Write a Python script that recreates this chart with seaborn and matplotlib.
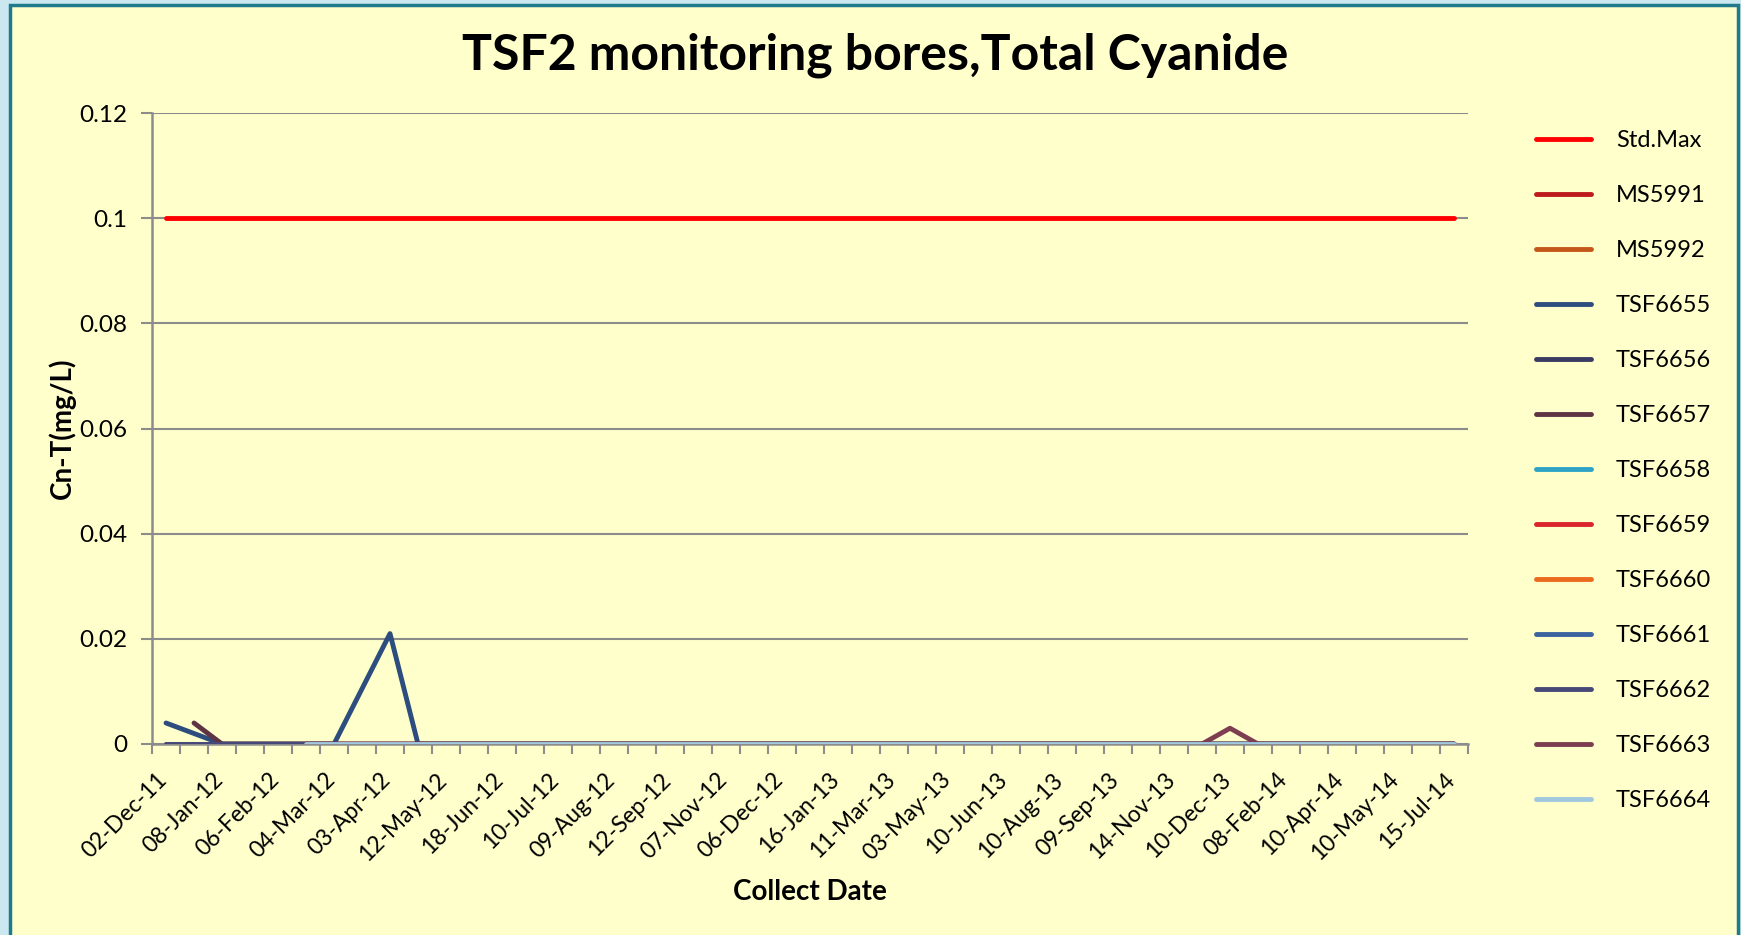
import numpy as np
import pandas as pd
import matplotlib.pyplot as plt
import seaborn as sns
from matplotlib.lines import Line2D
from matplotlib.patches import Rectangle

nan = np.nan

# 24 labelled collect dates, one label every second sample on the category axis
date_labels = ['02-Dec-11', '08-Jan-12', '06-Feb-12', '04-Mar-12', '03-Apr-12', '12-May-12',
               '18-Jun-12', '10-Jul-12', '09-Aug-12', '12-Sep-12', '07-Nov-12', '06-Dec-12',
               '16-Jan-13', '11-Mar-13', '03-May-13', '10-Jun-13', '10-Aug-13', '09-Sep-13',
               '14-Nov-13', '10-Dec-13', '08-Feb-14', '10-Apr-14', '10-May-14', '15-Jul-14']

# values per sample (47 samples), nan = not measured
std_max = [0.1] * 47
ms5991 = [0, 0, 0, 0, 0, 0, nan, nan, nan, nan, nan, nan,
          nan, nan, nan, nan, nan, nan, nan, nan, nan, nan, nan, nan,
          nan, nan, nan, nan, nan, nan, nan, nan, nan, nan, nan, nan,
          nan, nan, nan, nan, nan, nan, nan, nan, nan, nan, nan]
ms5992 = [0, 0, 0, 0, 0, 0, nan, nan, nan, nan, nan, nan,
          nan, nan, nan, nan, nan, nan, nan, nan, nan, nan, nan, nan,
          nan, nan, nan, nan, nan, nan, nan, nan, nan, nan, nan, nan,
          nan, nan, nan, nan, nan, nan, nan, nan, nan, nan, nan]
tsf6655 = [0.004, nan, 0, 0, 0, 0, 0, nan, 0.021, 0, 0, 0,
           0, 0, 0, 0, 0, 0, 0, 0, 0, 0, 0, 0,
           0, 0, 0, 0, 0, 0, 0, 0, 0, 0, 0, 0,
           0, 0, 0, 0, 0, 0, 0, 0, 0, 0, 0]
tsf6656 = [0, 0, 0, 0, 0, 0, 0, 0, 0, 0, 0, 0,
           0, 0, 0, 0, 0, 0, 0, 0, 0, 0, 0, 0,
           0, 0, 0, 0, 0, 0, 0, 0, 0, 0, 0, 0,
           0, 0, 0, 0, 0, 0, 0, 0, 0, 0, 0]
tsf6657 = [nan, 0.004, 0, 0, 0, 0, 0, 0, 0, 0, 0, 0,
           0, 0, 0, 0, 0, 0, 0, 0, 0, 0, 0, 0,
           0, 0, 0, 0, 0, 0, 0, 0, 0, 0, 0, 0,
           0, 0, 0, 0, 0, 0, 0, 0, 0, 0, 0]
tsf6658 = list(tsf6656)
tsf6659 = list(tsf6656)
tsf6660 = list(tsf6656)
tsf6661 = list(tsf6656)
tsf6662 = [0, 0, 0, 0, 0, 0, nan, nan, nan, nan, nan, nan,
           nan, nan, nan, nan, nan, nan, nan, nan, nan, nan, nan, nan,
           nan, nan, nan, nan, nan, nan, nan, nan, nan, nan, nan, nan,
           nan, nan, nan, nan, nan, nan, nan, nan, nan, nan, nan]
tsf6663 = [nan, nan, nan, nan, nan, 0, 0, 0, 0, 0, 0, 0,
           0, 0, 0, 0, 0, 0, 0, 0, 0, 0, 0, 0,
           0, 0, 0, 0, 0, 0, 0, 0, 0, 0, 0, 0,
           0, 0, 0.003, 0, 0, 0, 0, 0, 0, 0, 0]
tsf6664 = [nan, nan, nan, nan, nan, 0, 0, 0, 0, 0, 0, 0,
           0, 0, 0, 0, 0, 0, 0, 0, 0, 0, 0, 0,
           0, 0, 0, 0, 0, 0, 0, 0, 0, 0, 0, 0,
           0, 0, 0, 0, 0, 0, 0, 0, 0, 0, 0]

series = {'Std.Max': std_max, 'MS5991': ms5991, 'MS5992': ms5992,
          'TSF6655': tsf6655, 'TSF6656': tsf6656, 'TSF6657': tsf6657,
          'TSF6658': tsf6658, 'TSF6659': tsf6659, 'TSF6660': tsf6660,
          'TSF6661': tsf6661, 'TSF6662': tsf6662, 'TSF6663': tsf6663,
          'TSF6664': tsf6664}
colors = ['#FF0000', '#BE1A1E', '#C4571A', '#2C4D7E', '#393B62', '#5E3444',
          '#2EA3C6', '#D9252B', '#EB6A1E', '#3A63A0', '#464878', '#7D3E52',
          '#A0C8DF']
names = list(series.keys())

rows = []
for name, vals in series.items():
    for i, v in enumerate(vals):
        rows.append({'sample': i, 'value': v, 'bore': name})
df = pd.DataFrame(rows).dropna()

sns.set_theme(style='white')
plt.rcParams['font.family'] = ['Lato', 'DejaVu Sans']
plt.rcParams['text.color'] = 'black'
plt.rcParams['axes.labelcolor'] = 'black'
plt.rcParams['xtick.labelcolor'] = 'black'
plt.rcParams['ytick.labelcolor'] = 'black'
plt.rcParams['lines.solid_capstyle'] = 'round'
plt.rcParams['lines.solid_joinstyle'] = 'round'

bg = '#FFFFCC'
grey = '#8C8C8C'

fig = plt.figure(figsize=(17.41, 9.35), dpi=100, facecolor='#CBE8F1')
fig.patches.append(Rectangle((10 / 1741, -0.02), 1728 / 1741, 1.02 - 5 / 935,
                             transform=fig.transFigure, facecolor=bg,
                             edgecolor='#1F7A8C', lw=2.5, zorder=-10))
ax = fig.add_axes([152 / 1741, 1 - 744 / 935, 1316 / 1741, 631 / 935])
ax.set_facecolor(bg)

sns.lineplot(data=df, x='sample', y='value', hue='bore', hue_order=names,
             palette=colors, estimator=None, sort=True, lw=3.5, legend=False,
             zorder=3, ax=ax)

ax.set_xlim(-0.5, 46.5)
ax.set_ylim(0, 0.12)
ax.set_yticks(np.arange(0, 0.121, 0.02))
ax.set_yticklabels(['0', '0.02', '0.04', '0.06', '0.08', '0.1', '0.12'], fontsize=17.5)
ax.yaxis.grid(True, color=grey, lw=1.5)
ax.set_axisbelow(True)

ax.set_xticks(np.arange(-0.5, 47, 1))
ax.set_xticklabels([])
# label anchors sit a little left of each labelled sample, as in the original
ax.set_xticks(np.arange(0, 47, 2) - 0.35, minor=True)
ax.set_xticklabels(date_labels, minor=True, rotation=45, ha='right',
                   rotation_mode='anchor', fontsize=16.5)
ax.tick_params(axis='x', which='major', direction='out', length=7, width=1.5,
               color=grey, bottom=True)
ax.tick_params(axis='x', which='minor', length=0, pad=18)
ax.tick_params(axis='y', direction='out', length=8, width=1.5, color=grey, left=True, pad=10)

for s in ['top', 'right']:
    ax.spines[s].set_visible(False)
for s in ['left', 'bottom']:
    ax.spines[s].set_color(grey)
    ax.spines[s].set_linewidth(1.8)

ax.set_ylabel('Cn-T(mg/L)', fontsize=20, fontweight='bold')
ax.yaxis.set_label_coords(-0.058, 0.5)
ax.set_xlabel('Collect Date', fontsize=20, fontweight='bold')
ax.xaxis.set_label_coords(0.5, -0.214)

fig.text(875 / 1741, 1 - 55 / 935, 'TSF2 monitoring bores,Total Cyanide',
         ha='center', va='center', fontsize=36, fontweight='bold')

handles = [Line2D([0], [0], color=c, lw=3.5) for c in colors]
fig.legend(handles, names, loc='upper left', bbox_to_anchor=(1536 / 1741, 1 - 130 / 935),
           frameon=False, fontsize=17, handlelength=2.35, handletextpad=1.03,
           labelspacing=1.44, borderpad=0, borderaxespad=0)

fig.savefig('out.png', dpi=100, facecolor=fig.get_facecolor())
